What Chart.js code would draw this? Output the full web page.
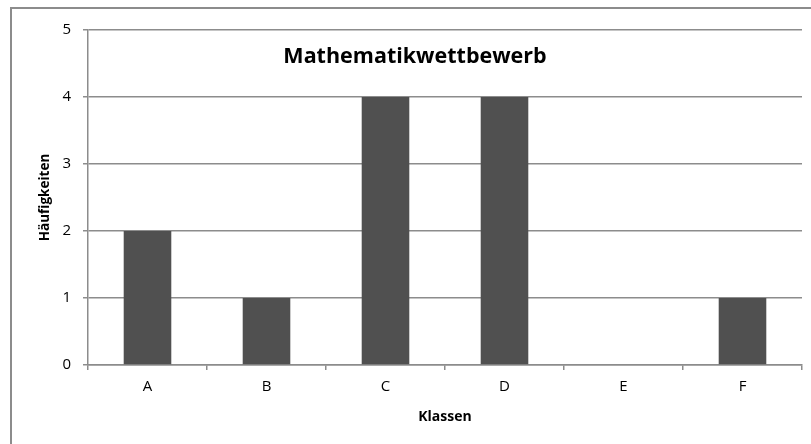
<!DOCTYPE html>
<html>
<head>
<meta charset="utf-8">
<script src="https://cdn.jsdelivr.net/npm/chart.js@4"></script>
<style>
  html, body { margin: 0; padding: 0; background: #fff; }
  #wrap { position: relative; width: 811px; height: 444px; }
  #frame {
    position: absolute; left: 10px; top: 7px; right: -5px; bottom: -5px;
    border-left: 2px solid #8c8c8c; border-top: 2px solid #8c8c8c;
    pointer-events: none;
  }
</style>
</head>
<body>
<div id="wrap">
  <canvas id="myChart" width="811" height="444"></canvas>
  <div id="frame"></div>
</div>
<script>
var categories = ["A", "B", "C", "D", "E", "F"];
var frequencies = [2, 1, 4, 4, 0, 1];
var yTicks = [0, 1, 2, 3, 4, 5];

var chartTitle = "Mathematikwettbewerb";
var xTitle = "Klassen";
var yTitle = "Häufigkeiten";

var gridColor = "#8c8c8c";
var fontFamily = "'Open Sans', sans-serif";

// title sits inside the plot area, not above it
var innerTitle = {
  id: "innerTitle",
  afterDraw: function (chart) {
    var a = chart.chartArea;
    var ctx = chart.ctx;
    ctx.save();
    ctx.font = "bold 21.5px " + fontFamily;
    ctx.fillStyle = "#000";
    ctx.textAlign = "center";
    ctx.textBaseline = "middle";
    ctx.fillText(chartTitle, a.left + (a.right - a.left) * 0.458, a.top + 27);
    ctx.restore();
  },
};

var ctx = document.getElementById("myChart").getContext("2d");
var myChart = new Chart(ctx, {
  type: "bar",
  data: {
    labels: categories,
    datasets: [
      {
        data: frequencies,
        backgroundColor: "#505050",
        borderWidth: 0,
        barPercentage: 0.4,
        categoryPercentage: 1,
      },
    ],
  },
  options: {
    responsive: false,
    animation: false,
    layout: { padding: { top: 30, right: 9, left: 0, bottom: 0 } },
    plugins: {
      legend: { display: false },
      tooltip: { enabled: false },
    },
    scales: {
      x: {
        afterFit: function (scale) { scale.height = 79; },
        grid: {
          offset: true,
          drawOnChartArea: false,
          drawTicks: true,
          tickLength: 5,
          color: gridColor,
          lineWidth: 1.5,
        },
        border: { color: gridColor, width: 1.5 },
        ticks: {
          padding: 8,
          color: "#000",
          font: { family: fontFamily, size: 15 },
        },
        title: {
          display: true,
          text: xTitle,
          color: "#000",
          font: { family: fontFamily, size: 14, weight: "bold" },
          padding: { bottom: 19 },
        },
      },
      y: {
        min: 0,
        max: 5,
        afterFit: function (scale) { scale.width = 88; },
        afterBuildTicks: function (scale) {
          scale.ticks = yTicks.map(function (v) { return { value: v }; });
        },
        grid: {
          color: gridColor,
          lineWidth: 1.5,
          tickLength: 5,
        },
        border: { color: gridColor, width: 1.5 },
        ticks: {
          padding: 12,
          color: "#000",
          font: { family: fontFamily, size: 15 },
        },
        title: {
          display: true,
          text: yTitle,
          color: "#000",
          font: { family: fontFamily, size: 13.5, weight: "bold" },
          padding: { top: 37 },
        },
      },
    },
  },
  plugins: [innerTitle],
});
</script>
</body>
</html>
